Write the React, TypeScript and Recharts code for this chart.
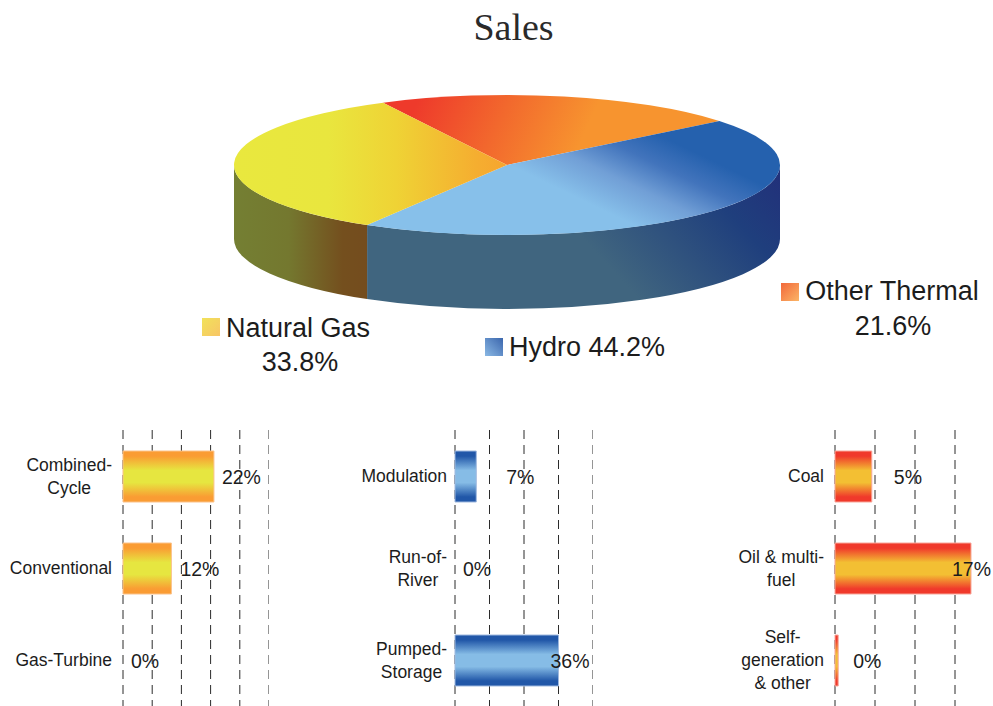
import { Bar, BarChart, CartesianGrid, Cell, LabelList, Pie, PieChart, XAxis, YAxis } from "recharts";

const sliceNames = ["Other Thermal", "Hydro", "Natural Gas"];
const sliceValues = [21.6, 44.2, 33.8];

const gasCategories = ["Combined-\nCycle", "Conventional", "Gas-Turbine"];
const gasValues = [21.8, 11.6, 0];
const gasTicks = [0, 7, 14, 21, 28, 35];

const hydroCategories = ["Modulation", "Run-of-\nRiver", "Pumped-\nStorage"];
const hydroValues = [7.4, 0, 36];
const hydroTicks = [0, 12, 24, 36, 48];

const thermalCategories = ["Coal", "Oil & multi-\nfuel", "Self-\ngeneration\n& other"];
const thermalValues = [4.6, 17, 0.4];
const thermalTicks = [0, 5, 10, 15, 20];

const SANS = "'Liberation Sans', Arial, sans-serif";
const TEXT = "#1c1c1c";
const PIE_RX = 273;
const PIE_RY = 70;
const PIE_DEPTH = 74;

const topFills = ["url(#topRed)", "url(#topBlue)", "url(#topYellow)"];
const wallFills = ["#000", "url(#wallBlue)", "url(#wallYellow)"];

const pieData = sliceNames.map((name, i) => ({ name, value: sliceValues[i] }));

function pt(cx: number, cy: number, deg: number, dy = 0) {
  const r = (deg * Math.PI) / 180;
  return `${cx + PIE_RX * Math.cos(r)} ${cy - PIE_RY * Math.sin(r) + dy}`;
}

function TopFace(props: any) {
  const { cx, cy, startAngle, endAngle, fill } = props;
  const hi = Math.max(startAngle, endAngle);
  const lo = Math.min(startAngle, endAngle);
  const large = hi - lo > 180 ? 1 : 0;
  return (
    <path
      d={`M ${cx} ${cy} L ${pt(cx, cy, hi)} A ${PIE_RX} ${PIE_RY} 0 ${large} 1 ${pt(cx, cy, lo)} Z`}
      fill={fill}
    />
  );
}

// only the part of a slice facing the viewer gets a wall
function WallFace(props: any) {
  const { cx, cy, startAngle, endAngle, fill } = props;
  const hi = Math.min(Math.max(startAngle, endAngle), 0);
  const lo = Math.max(Math.min(startAngle, endAngle), -180);
  if (hi <= lo) return <g />;
  return (
    <path
      d={`M ${pt(cx, cy, hi)} A ${PIE_RX} ${PIE_RY} 0 0 1 ${pt(cx, cy, lo)} L ${pt(cx, cy, lo, PIE_DEPTH)} A ${PIE_RX} ${PIE_RY} 0 0 0 ${pt(cx, cy, hi, PIE_DEPTH)} Z`}
      fill={fill}
    />
  );
}

let measureCtx: CanvasRenderingContext2D | null = null;
function textWidth(s: string) {
  if (!measureCtx) {
    measureCtx = document.createElement("canvas").getContext("2d");
    measureCtx!.font = `17.5px ${SANS}`;
  }
  return measureCtx!.measureText(s).width;
}

function CategoryTick({ x, y, payload }: any) {
  const lines = String(payload.value).split("\n");
  const widest = Math.max(...lines.map(textWidth));
  const mid = x - widest / 2;
  const lineH = 23;
  const first = y + 6 - ((lines.length - 1) * lineH) / 2;
  return (
    <text textAnchor="middle" fontFamily={SANS} fontSize={17.5} fill={TEXT}>
      {lines.map((l, i) => (
        <tspan key={i} x={mid} y={first + i * lineH}>
          {l}
        </tspan>
      ))}
    </text>
  );
}

interface SmallBarsProps {
  id: string;
  left: number;
  axisWidth: number;
  plotWidth: number;
  categories: string[];
  values: number[];
  ticks: number[];
  edge: string;
  middle: string;
  border: string;
  tickGap: number;
  labelGaps: number[];
}

function SmallBars(p: SmallBarsProps) {
  const data = p.categories.map((category, i) => ({ category, value: p.values[i] }));
  return (
    <div style={{ position: "absolute", left: p.left, top: 430 }}>
      <BarChart
        layout="vertical"
        width={p.axisWidth + p.plotWidth}
        height={276}
        data={data}
        margin={{ top: 0, right: 0, bottom: 0, left: 0 }}
        barCategoryGap={0}
      >
        <defs>
          <linearGradient id={p.id} x1="0" y1="0" x2="0" y2="1">
            <stop offset="0" stopColor={p.edge} />
            <stop offset="0.1" stopColor={p.edge} />
            <stop offset="0.38" stopColor={p.middle} />
            <stop offset="0.62" stopColor={p.middle} />
            <stop offset="0.9" stopColor={p.edge} />
            <stop offset="1" stopColor={p.edge} />
          </linearGradient>
        </defs>
        <CartesianGrid
          horizontal={false}
          vertical
          stroke="#2b2b2b"
          strokeWidth={1}
          strokeDasharray="9 6"
        />
        <XAxis
          type="number"
          hide
          domain={[p.ticks[0], p.ticks[p.ticks.length - 1]]}
          ticks={p.ticks}
        />
        <YAxis
          type="category"
          dataKey="category"
          width={p.axisWidth}
          axisLine={false}
          tickLine={false}
          tickSize={0}
          tickMargin={p.tickGap}
          interval={0}
          tick={CategoryTick}
        />
        <Bar
          dataKey="value"
          barSize={51}
          minPointSize={0.01}
          fill={`url(#${p.id})`}
          strokeWidth={1}
          isAnimationActive={false}
        >
          {p.values.map((v, i) => (
            <Cell key={i} stroke={v > 0 ? p.border : "none"} />
          ))}
          <LabelList
            dataKey="value"
            content={(l: any) => (
              <text
                x={l.x + l.width + p.labelGaps[l.index]}
                y={l.y + l.height / 2 + 7}
                fontFamily={SANS}
                fontSize={19.5}
                fill={TEXT}
              >
                {`${Math.round(l.value)}%`}
              </text>
            )}
          />
        </Bar>
      </BarChart>
    </div>
  );
}

function LegendKey(props: { left: number; top: number; gradient: string }) {
  return (
    <div
      style={{
        position: "absolute",
        left: props.left,
        top: props.top,
        width: 18,
        height: 18,
        background: props.gradient,
      }}
    />
  );
}

function Caption(props: { left: number; top: number; width: number; text: string }) {
  return (
    <div
      style={{
        position: "absolute",
        left: props.left,
        top: props.top,
        width: props.width,
        textAlign: "center",
        whiteSpace: "nowrap",
        fontFamily: SANS,
        fontSize: 27,
        lineHeight: "32px",
        color: TEXT,
      }}
    >
      {props.text}
    </div>
  );
}

export default function App() {
  return (
    <div
      style={{
        position: "absolute",
        left: 0,
        top: 0,
        width: 993,
        height: 706,
        overflow: "hidden",
        background: "#fff",
      }}
    >
      <div style={{ position: "absolute", left: 0, top: 0 }}>
        <PieChart width={993} height={400} margin={{ top: 0, right: 0, bottom: 0, left: 0 }}>
          <defs>
            <linearGradient id="topRed" gradientUnits="userSpaceOnUse" x1="420" y1="95" x2="570" y2="165">
              <stop offset="0" stopColor="#ee3a2b" />
              <stop offset="0.5" stopColor="#f2682d" />
              <stop offset="1" stopColor="#f7942f" />
            </linearGradient>
            <linearGradient id="topBlue" gradientUnits="userSpaceOnUse" x1="680" y1="145" x2="640" y2="228">
              <stop offset="0" stopColor="#2561ae" />
              <stop offset="0.3" stopColor="#4274bc" />
              <stop offset="0.62" stopColor="#719fd6" />
              <stop offset="1" stopColor="#87c0ea" />
            </linearGradient>
            <linearGradient id="topYellow" gradientUnits="userSpaceOnUse" x1="234" y1="0" x2="503" y2="0">
              <stop offset="0" stopColor="#e9e83e" />
              <stop offset="0.35" stopColor="#e9e63e" />
              <stop offset="0.6" stopColor="#efd335" />
              <stop offset="0.9" stopColor="#f5ae30" />
              <stop offset="1" stopColor="#f6a62f" />
            </linearGradient>
            <linearGradient id="wallBlue" gradientUnits="userSpaceOnUse" x1="780" y1="170" x2="640" y2="300">
              <stop offset="0" stopColor="#22307a" />
              <stop offset="0.35" stopColor="#1f3f7d" />
              <stop offset="1" stopColor="#40657f" />
            </linearGradient>
            <linearGradient id="wallYellow" gradientUnits="userSpaceOnUse" x1="234" y1="0" x2="370" y2="0">
              <stop offset="0" stopColor="#747f33" />
              <stop offset="0.4" stopColor="#74782f" />
              <stop offset="0.8" stopColor="#744f1e" />
              <stop offset="1" stopColor="#744c1e" />
            </linearGradient>
          </defs>
          <Pie
            data={pieData}
            dataKey="value"
            nameKey="name"
            cx={507}
            cy={165}
            outerRadius={PIE_RX}
            startAngle={117}
            endAngle={-243}
            stroke="none"
            shape={WallFace}
            isAnimationActive={false}
          >
            {wallFills.map((f, i) => (
              <Cell key={i} fill={f} />
            ))}
          </Pie>
          <Pie
            data={pieData}
            dataKey="value"
            nameKey="name"
            cx={507}
            cy={165}
            outerRadius={PIE_RX}
            startAngle={117}
            endAngle={-243}
            stroke="none"
            shape={TopFace}
            isAnimationActive={false}
          >
            {topFills.map((f, i) => (
              <Cell key={i} fill={f} />
            ))}
          </Pie>
        </PieChart>
      </div>

      <div
        style={{
          position: "absolute",
          left: 0,
          top: 4,
          width: 1027,
          textAlign: "center",
          fontFamily: "'Liberation Serif', 'Times New Roman', serif",
          fontSize: 38,
          lineHeight: "46px",
          color: "#2a2a2a",
        }}
      >
        Sales
      </div>

      <LegendKey left={781} top={283} gradient="linear-gradient(135deg, #f2683a, #fbb566)" />
      <Caption left={804} top={275} width={176} text={sliceNames[0]} />
      <Caption left={805} top={310} width={176} text={`${sliceValues[0]}%`} />

      <LegendKey left={485} top={338} gradient="linear-gradient(45deg, #8ab8e4, #3b66ad)" />
      <Caption left={509} top={331} width={155} text={`${sliceNames[1]} ${sliceValues[1]}%`} />

      <LegendKey left={202} top={318} gradient="linear-gradient(135deg, #f1e25a, #f8c566)" />
      <Caption left={225} top={312} width={146} text={sliceNames[2]} />
      <Caption left={226} top={346} width={148} text={`${sliceValues[2]}%`} />

      <SmallBars
        id="barGas"
        left={0}
        axisWidth={123}
        plotWidth={146}
        categories={gasCategories}
        values={gasValues}
        ticks={gasTicks}
        edge="#fa9c33"
        middle="#e6e640"
        border="#fbc28a"
        tickGap={11}
        labelGaps={[8, 9, 8]}
      />
      <SmallBars
        id="barHydro"
        left={330}
        axisWidth={125}
        plotWidth={138}
        categories={hydroCategories}
        values={hydroValues}
        ticks={hydroTicks}
        edge="#2157a8"
        middle="#86bce6"
        border="#9fb9df"
        tickGap={8}
        labelGaps={[30, 8, -8]}
      />
      <SmallBars
        id="barThermal"
        left={700}
        axisWidth={135}
        plotWidth={160}
        categories={thermalCategories}
        values={thermalValues}
        ticks={thermalTicks}
        edge="#f0392b"
        middle="#f3bf33"
        border="#f8a79a"
        tickGap={11}
        labelGaps={[22, -19, 15]}
      />
    </div>
  );
}
